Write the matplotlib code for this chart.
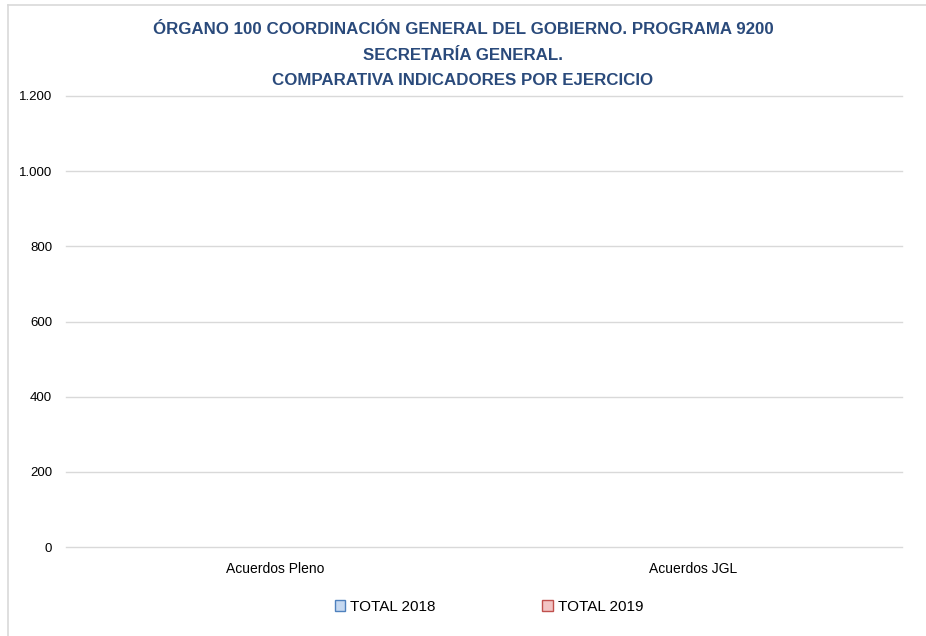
import numpy as np
import matplotlib.pyplot as plt
from matplotlib.patches import Patch
from matplotlib.lines import Line2D
from matplotlib.ticker import FuncFormatter

plt.rcParams['font.family'] = ['Liberation Sans', 'DejaVu Sans']

categories = ['Acuerdos Pleno', 'Acuerdos JGL']
series_names = ['TOTAL 2018', 'TOTAL 2019']
total_2018 = [0, 0]
total_2019 = [0, 0]
y_ticks = [0, 200, 400, 600, 800, 1000, 1200]
title = ('ÓRGANO 100 COORDINACIÓN GENERAL DEL GOBIERNO. PROGRAMA 9200\n'
         'SECRETARÍA GENERAL.\n'
         'COMPARATIVA INDICADORES POR EJERCICIO')

fill = ['#c6d9f1', '#f2c4c4']
edge = ['#4f81bd', '#c0504d']

fig = plt.figure(figsize=(9.26, 6.36), dpi=100)
ax = fig.add_axes([66/926, 1-547/636, (902-66)/926, (547-96)/636])

x = np.arange(len(categories))
w = 0.3
ax.bar(x - w/2, total_2018, w, color=fill[0], linewidth=0)
ax.bar(x + w/2, total_2019, w, color=fill[1], linewidth=0)

ax.set_xlim(-0.5, len(categories) - 0.5)
ax.set_ylim(0, 1200)
ax.set_yticks(y_ticks)
ax.yaxis.set_major_formatter(FuncFormatter(lambda v, p: f'{int(v):,}'.replace(',', '.')))
ax.set_xticks(x)
ax.set_xticklabels(categories, fontsize=10)
ax.tick_params(axis='y', length=0, pad=10, labelsize=9.5)
ax.tick_params(axis='x', length=0, pad=11)
ax.grid(axis='y', color='#d9d9d9', linewidth=1)
for gl in ax.get_ygridlines():
    gl.set_clip_on(False)
ax.set_axisbelow(True)
for s in ax.spines.values():
    s.set_visible(False)

fig.text(463/926, 1-55/636, title, ha='center', va='center', fontsize=12.2,
         fontweight='bold', color='#2a4a7b', linespacing=1.85)

handles = [Patch(facecolor=fill[i], edgecolor=edge[i], linewidth=1) for i in range(2)]
fig.legend(handles, series_names, loc='center', bbox_to_anchor=(489/926, 1-607/636),
           ncol=2, frameon=False, handlelength=0.7, handleheight=0.7,
           handletextpad=0.3, columnspacing=7, prop={'size': 11})

# chart border
fig.add_artist(Line2D([8/926, 8/926], [0, 1-5/636], color='#d9d9d9', linewidth=1.2))
fig.add_artist(Line2D([8/926, 1], [1-5/636, 1-5/636], color='#d9d9d9', linewidth=1.2))

fig.savefig('out.png', dpi=100, facecolor='white')
